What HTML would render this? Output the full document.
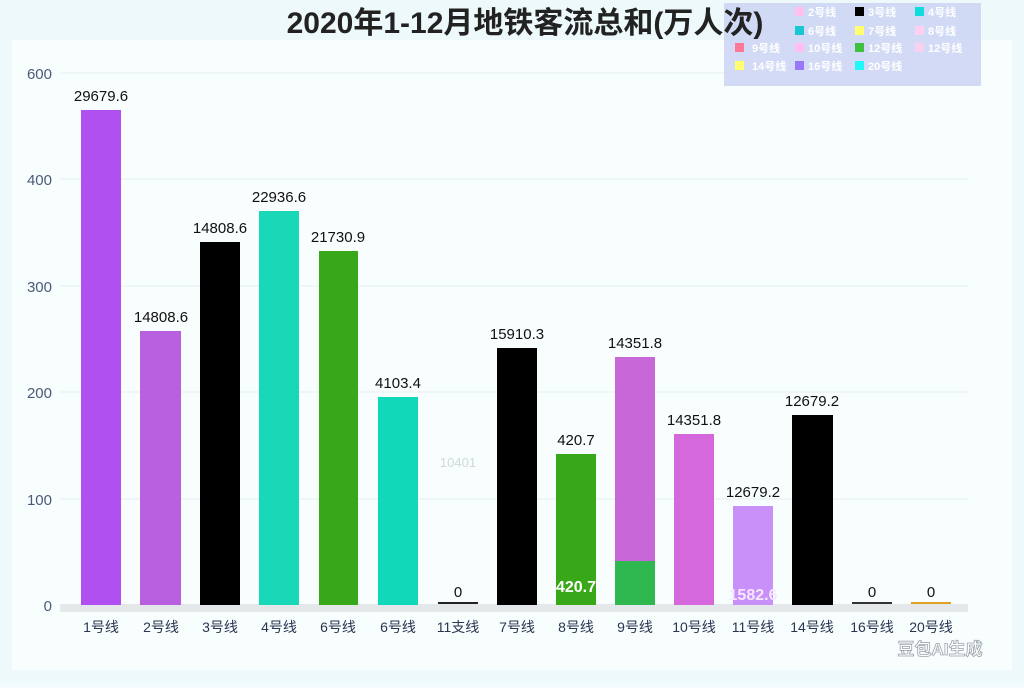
<!DOCTYPE html><html><head><meta charset="utf-8"><style>
body{margin:0;width:1024px;height:683px;background:#f3fbfc;font-family:"Liberation Sans","Noto Sans CJK SC",sans-serif;overflow:hidden}
</style></head><body>
<svg width="1024" height="683" xmlns="http://www.w3.org/2000/svg" font-family="Liberation Sans, Noto Sans CJK SC, sans-serif">
<rect width="1024" height="683" fill="#eef9fb"/>
<rect x="12" y="40" width="1000" height="630" fill="#f8fdfe"/>
<g stroke="#e6eef2" stroke-width="1">
<line x1="60" y1="73" x2="968" y2="73"/><line x1="60" y1="179" x2="968" y2="179"/><line x1="60" y1="286" x2="968" y2="286"/><line x1="60" y1="392" x2="968" y2="392"/><line x1="60" y1="499" x2="968" y2="499"/>
</g>
<rect x="60" y="604" width="908" height="8" fill="#e4e8ea"/>
<g font-size="15" fill="#4a5a78" text-anchor="end">
<text x="52" y="79">600</text><text x="52" y="185">400</text><text x="52" y="292">300</text><text x="52" y="398">200</text><text x="52" y="505">100</text><text x="52" y="611">0</text>
</g>
<rect x="724" y="3" width="257" height="83" fill="#cdd6f4" opacity="0.9"/>
<text x="525" y="33" font-size="30" font-weight="bold" text-anchor="middle" fill="#222">2020年1-12月地铁客流总和(万人次)</text>
<g font-size="11" font-weight="bold" fill="#fff">
<rect x="795" y="7" width="9" height="9" fill="#ffc0f0"/><text x="808" y="16">2号线</text>
<rect x="855" y="7" width="9" height="9" fill="#000"/><text x="868" y="16">3号线</text>
<rect x="915" y="7" width="9" height="9" fill="#10dcdc"/><text x="928" y="16">4号线</text>
<rect x="795" y="26" width="9" height="9" fill="#18c8d0"/><text x="808" y="35">6号线</text>
<rect x="855" y="26" width="9" height="9" fill="#ffff70"/><text x="868" y="35">7号线</text>
<rect x="915" y="26" width="9" height="9" fill="#ffd0f0"/><text x="928" y="35">8号线</text>
<rect x="735" y="43" width="9" height="9" fill="#ff7898"/><text x="752" y="52">9号线</text>
<rect x="795" y="43" width="9" height="9" fill="#ffc0f0"/><text x="808" y="52">10号线</text>
<rect x="855" y="43" width="9" height="9" fill="#40c040"/><text x="868" y="52">12号线</text>
<rect x="915" y="43" width="9" height="9" fill="#f8d0f0"/><text x="928" y="52">12号线</text>
<rect x="735" y="61" width="9" height="9" fill="#ffff70"/><text x="752" y="70">14号线</text>
<rect x="795" y="61" width="9" height="9" fill="#9878f8"/><text x="808" y="70">16号线</text>
<rect x="855" y="61" width="9" height="9" fill="#20f8f8"/><text x="868" y="70">20号线</text>
</g>
<rect x="81" y="110" width="40" height="495" fill="#b050f0"/>
<rect x="140" y="331" width="41" height="274" fill="#b860e0"/>
<rect x="200" y="242" width="40" height="363" fill="#000"/>
<rect x="259" y="211" width="40" height="394" fill="#18d8b8"/>
<rect x="319" y="251" width="39" height="354" fill="#38a818"/>
<rect x="378" y="397" width="40" height="208" fill="#10d8b8"/>
<rect x="438" y="602" width="40" height="2" fill="#222"/>
<rect x="497" y="348" width="40" height="257" fill="#000"/>
<rect x="556" y="454" width="40" height="151" fill="#38a818"/>
<rect x="615" y="357" width="40" height="248" fill="#c868d8"/>
<rect x="615" y="561" width="40" height="44" fill="#30b850"/>
<rect x="674" y="434" width="40" height="171" fill="#d468dc"/>
<rect x="733" y="506" width="40" height="99" fill="#c890f8"/>
<rect x="792" y="415" width="41" height="190" fill="#000"/>
<rect x="852" y="602" width="40" height="2" fill="#333"/>
<rect x="911" y="602" width="40" height="2" fill="#e0a020"/>
<g font-size="15" fill="#111" text-anchor="middle">
<text x="101" y="101">29679.6</text><text x="161" y="322">14808.6</text><text x="220" y="233">14808.6</text><text x="279" y="202">22936.6</text><text x="338" y="242">21730.9</text><text x="398" y="388">4103.4</text>
<text x="458" y="467" fill="#d0d8dc" font-size="13">10401</text><text x="458" y="597">0</text>
<text x="517" y="339">15910.3</text><text x="576" y="445">420.7</text><text x="635" y="348">14351.8</text><text x="694" y="425">14351.8</text><text x="753" y="497">12679.2</text><text x="812" y="406">12679.2</text><text x="872" y="597">0</text><text x="931" y="597">0</text>
<text x="576" y="592" fill="#fff" font-weight="bold" font-size="16">420.7</text>
<text x="753" y="600" fill="#f4e8ff" font-weight="bold" font-size="16">1582.6</text>
</g>
<g font-size="14" fill="#2a3550" text-anchor="middle">
<text x="101" y="632">1号线</text><text x="161" y="632">2号线</text><text x="220" y="632">3号线</text><text x="279" y="632">4号线</text><text x="338" y="632">6号线</text><text x="398" y="632">6号线</text><text x="458" y="632">11支线</text><text x="517" y="632">7号线</text><text x="576" y="632">8号线</text><text x="635" y="632">9号线</text><text x="694" y="632">10号线</text><text x="753" y="632">11号线</text><text x="812" y="632">14号线</text><text x="872" y="632">16号线</text><text x="931" y="632">20号线</text>
</g>
<text x="940" y="655" font-size="17" font-weight="bold" fill="#fff" stroke="#9aa4aa" stroke-width="0.8" text-anchor="middle">豆包AI生成</text>
</svg>
</body></html>
